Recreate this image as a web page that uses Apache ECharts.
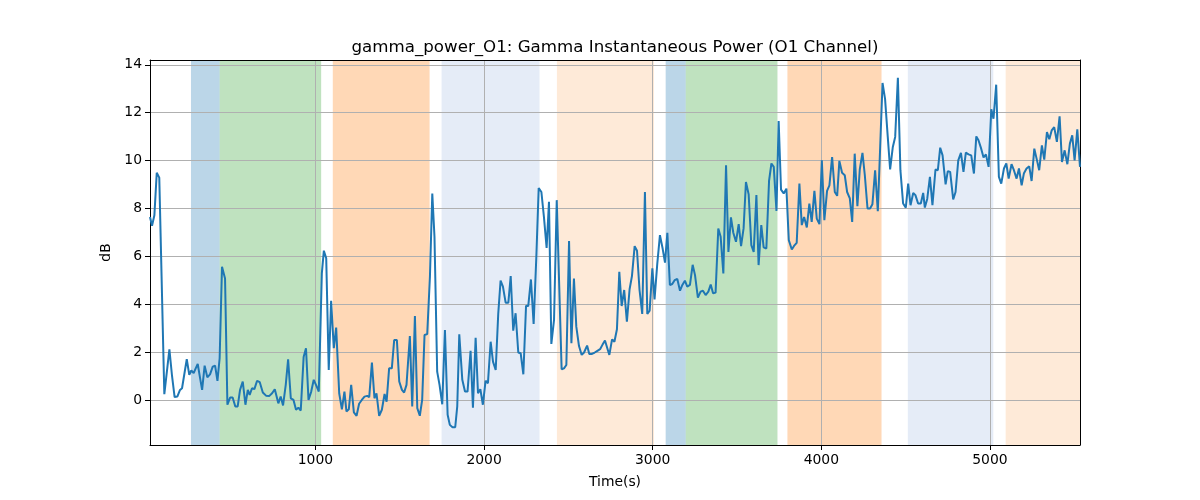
<!DOCTYPE html>
<html>
<head>
<meta charset="utf-8">
<script src="https://cdn.jsdelivr.net/npm/echarts@6/dist/echarts.min.js"></script>
<style>html,body{margin:0;padding:0;background:#fff}#chart{width:1200px;height:500px}</style>
</head>
<body>
<div id="chart"></div>
<script>
// ---- data ----
const titleText = 'gamma_power_O1: Gamma Instantaneous Power (O1 Channel)';
const xName = 'Time(s)';
const yName = 'dB';
const xTicks = [1000, 2000, 3000, 4000, 5000];
const yTicks = [0, 2, 4, 6, 8, 10, 12, 14];
const xMin = 19, xMax = 5534;
const yMin = -1.87, yMax = 14.2;

const times = [
19,31,45,59,74,104,134,150,165,181,197,209,237,252,264,278,290,302,316,328,343,359,375,391,405,419,432,446,464,478,494,509,525,539,553,569,585,599,610,624,638,654,670,688,707,727,743,759,769,780,794,808,824,838,854,870,885,899,913,
930,944,959,975,990,1006,1020,1038,1050,1064,1079,1093,1109,1123,1141,1157,1172,1184,1198,1212,1228,1244,1259,1275,1291,1307,1319,1335,1350,1362,1378,1394,1410,1422,1437,1453,1467,1483,1497,1513,1526,1540,1560,1574,1590,1604,1619,1633,1647,1663,1679,1693,1706,1722,1736,1752,1768,1784,1797,1813,1829,1841,1853,
1871,1887,1902,1920,1934,1950,1964,1978,1993,2009,2023,2039,2053,2069,2084,2098,2112,2128,2144,2158,2173,2187,2203,2217,2233,2249,2262,2278,2294,2310,2324,2340,2355,2371,2385,2399,2415,2431,2460,2474,2488,2504,2518,2533,2547,2563,2579,2593,2611,2624,2640,2656,2672,2688,2702,2717,2743,2759,2773,
2788,2802,2816,2831,2847,2863,2877,2893,2907,2922,2938,2954,2968,2982,2998,3011,3027,3043,3059,3073,3087,3102,3116,3130,3146,3162,3176,3191,3205,3221,3237,3251,3268,3284,3298,3314,3330,3344,3358,3373,3389,3403,3419,3435,3449,3464,3478,3494,3510,3524,3539,3553,3569,3585,3599,3615,3628,3644,3658,3674,3690,
3704,3718,3734,3747,3761,3777,3793,3807,3825,3838,3854,3870,3884,3898,3914,3929,3943,3959,3973,3989,4003,4018,4034,4048,4064,4080,4094,4107,4123,4139,4153,4169,4183,4198,4214,4228,4244,4258,4274,4289,4303,4319,4335,4349,4363,4378,4394,4408,4424,4438,4454,4469,4485,4501,4515,4529,4545,4558,4574,4590,4604,
4614,4628,4644,4659,4677,4691,4705,4719,4737,4750,4764,4782,4796,4812,4828,4843,4857,4873,4889,4905,4919,4932,4948,4962,4976,4992,5008,5021,5037,5053,5067,5083,5097,5111,5128,5142,5158,5172,5188,5201,5217,5233,5247,5263,5279,5292,5308,5322,5338,5352,5366,5381,5397,5413,5427,5443,5459,5474,5488,5502,5518,5534
];
const values = [
7.65,7.28,7.72,9.49,9.29,0.25,2.12,0.99,0.13,0.15,0.43,0.5,1.71,1.06,1.24,1.13,1.33,1.51,0.92,0.43,1.44,0.96,1.08,1.4,1.44,0.81,1.75,5.57,5.08,-0.19,0.11,0.11,-0.26,-0.26,0.43,0.78,-0.19,0.43,0.22,0.5,0.46,0.81,0.75,0.32,0.19,0.18,0.29,0.46,0.43,-0.13,0.15,-0.22,0.64,1.71,0.08,0.01,-0.4,-0.31,-0.43,
1.8,2.17,0.01,0.36,0.85,0.6,0.36,5.29,6.24,5.92,1.26,4.15,2.17,3.03,0.29,-0.38,0.36,-0.47,-0.38,0.64,-0.51,-0.65,-0.15,0.01,0.15,0.18,0.13,1.57,0.08,0.29,-0.65,-0.4,0.26,-0.06,1.33,1.33,2.51,2.51,0.78,0.43,0.32,0.64,2.68,-0.26,3.51,-0.33,-0.65,0.01,2.72,2.76,5.15,8.63,6.82,1.19,0.64,-0.17,2.93,-0.61,-1.03,-1.13,-1.13,-0.26,2.75,
0.85,0.36,0.36,2.06,-0.31,2.61,0.29,0.46,-0.19,0.81,0.71,2.44,1.61,1.26,3.6,4.99,4.74,4.07,4.07,5.18,2.9,3.63,1.99,1.96,1.08,3.94,3.93,5.04,3.18,5.99,8.86,8.69,7.65,6.36,8.28,2.35,3.35,8.35,1.29,1.33,1.47,6.64,2.38,5.08,3.07,2.26,1.89,1.99,2.28,1.93,1.93,1.99,2.06,2.13,2.31,2.49,1.89,2.54,2.44,
2.96,5.36,3.93,4.6,3.28,4.63,5.18,6.43,6.24,4.6,3.6,8.69,3.6,3.74,5.5,4.21,5.68,6.89,6.33,5.74,6.99,4.81,4.85,5.01,5.06,4.57,4.81,4.99,4.74,4.81,5.65,5.22,4.28,4.53,4.57,4.39,4.53,4.83,4.46,4.49,7.17,6.82,5.29,9.81,6.19,7.63,6.99,6.61,7.35,6.43,7.17,9.11,8.6,6.47,6.19,8.56,5.64,7.31,6.38,6.33,9.15,
9.88,9.74,7.9,11.65,8.79,8.63,8.83,6.68,6.29,6.44,6.57,9.04,7.31,7.65,7.21,8.21,7.44,8.74,7.58,7.35,10.01,7.51,8.74,8.97,10.15,8.69,8.53,9.99,9.49,9.39,8.69,8.42,7.44,10.29,8.1,9.63,10.32,9.39,8.0,8.0,8.18,9.6,7.89,10.57,13.24,12.58,10.99,9.63,10.57,10.99,13.46,9.6,8.21,8.04,9.04,8.14,8.65,8.56,8.21,8.21,8.65,
8.04,8.4,9.32,8.14,9.63,9.6,10.54,10.22,9.01,9.56,9.53,8.38,8.69,10.01,10.32,9.53,10.33,10.26,10.22,9.46,11.01,10.85,10.5,10.13,10.26,9.74,12.14,11.75,13.17,9.32,9.04,9.67,9.88,9.25,9.85,9.6,9.25,9.67,8.97,9.46,9.67,9.76,9.15,10.5,10.01,9.6,10.64,10.04,11.19,10.89,11.26,11.4,10.78,11.85,9.94,10.43,9.85,10.71,11.06,10.01,11.31,9.74
];

// shaded intervals
const spanStarts = [262, 432, 1103, 1748, 2432, 3077, 3196, 3799, 4513, 5093];
const spanEnds   = [432, 1034, 1677, 2329, 3008, 3196, 3740, 4357, 5020, 5534];
const spanKinds  = ['blue', 'green', 'orange', 'lightblue', 'lightorange', 'blue', 'green', 'orange', 'lightblue', 'lightorange'];

// ---- styles ----
const spanColors = {
  blue: 'rgba(31,119,180,0.3)',
  green: 'rgba(44,160,44,0.3)',
  orange: 'rgba(255,127,14,0.3)',
  lightblue: 'rgba(70,120,200,0.14)',
  lightorange: 'rgba(250,150,60,0.2)'
};
const FONT = 'DejaVu Sans';
const TICK_FS = 13.9;

const lineData = times.map((t, i) => [t, values[i]]);
const areaData = spanStarts.map((s, i) => [
  { xAxis: s, itemStyle: { color: spanColors[spanKinds[i]] } },
  { xAxis: spanEnds[i] }
]);

const chart = echarts.init(document.getElementById('chart'), null, { renderer: 'canvas' });
chart.setOption({
  animation: false,
  backgroundColor: '#ffffff',
  title: {
    text: titleText,
    left: 615,
    top: 39,
    padding: 0,
    textAlign: 'center',
    textStyle: { fontFamily: FONT, fontSize: 16.67, fontWeight: 'normal', color: '#000' }
  },
  grid: { left: 150, right: 120, top: 60, bottom: 55, containLabel: false },
  xAxis: [{
    type: 'value', min: xMin, max: xMax, position: 'bottom',
    name: xName, nameLocation: 'middle', nameGap: 30,
    nameTextStyle: { fontFamily: FONT, fontSize: TICK_FS, color: '#000' },
    axisLine: { show: true, onZero: false, lineStyle: { color: '#000', width: 1 } },
    axisTick: { show: true, customValues: xTicks, length: 5, lineStyle: { color: '#000', width: 1 } },
    axisLabel: { customValues: xTicks, margin: 8, fontFamily: FONT, fontSize: TICK_FS, color: '#000',
      formatter: v => String(v) },
    splitLine: { show: true, lineStyle: { color: '#b0b0b0', width: 1 } }
  }, {
    type: 'value', min: xMin, max: xMax, position: 'top',
    axisLine: { show: true, onZero: false, lineStyle: { color: '#000', width: 1 } },
    axisTick: { show: false }, axisLabel: { show: false }, splitLine: { show: false }
  }],
  yAxis: [{
    type: 'value', min: yMin, max: yMax, position: 'left',
    name: yName, nameLocation: 'middle', nameGap: 24,
    nameTextStyle: { fontFamily: FONT, fontSize: TICK_FS, color: '#000' },
    axisLine: { show: true, onZero: false, lineStyle: { color: '#000', width: 1 } },
    axisTick: { show: true, customValues: yTicks, length: 5, lineStyle: { color: '#000', width: 1 } },
    axisLabel: { customValues: yTicks, margin: 8, fontFamily: FONT, fontSize: TICK_FS, color: '#000',
      formatter: v => String(v) },
    splitLine: { show: true, lineStyle: { color: '#b0b0b0', width: 1 } }
  }, {
    type: 'value', min: yMin, max: yMax, position: 'right',
    axisLine: { show: true, onZero: false, lineStyle: { color: '#000', width: 1 } },
    axisTick: { show: false }, axisLabel: { show: false }, splitLine: { show: false }
  }],
  series: [{
    name: 'spans', type: 'line', data: [], z: -1,
    xAxisIndex: 0, yAxisIndex: 0,
    markArea: { silent: true, z: -1, data: areaData }
  }, {
    name: 'gamma', type: 'line', data: lineData, z: 3,
    xAxisIndex: 0, yAxisIndex: 0,
    showSymbol: false, symbol: 'none',
    lineStyle: { color: '#1f77b4', width: 2 },
    itemStyle: { color: '#1f77b4' }
  }]
});
</script>
</body>
</html>
